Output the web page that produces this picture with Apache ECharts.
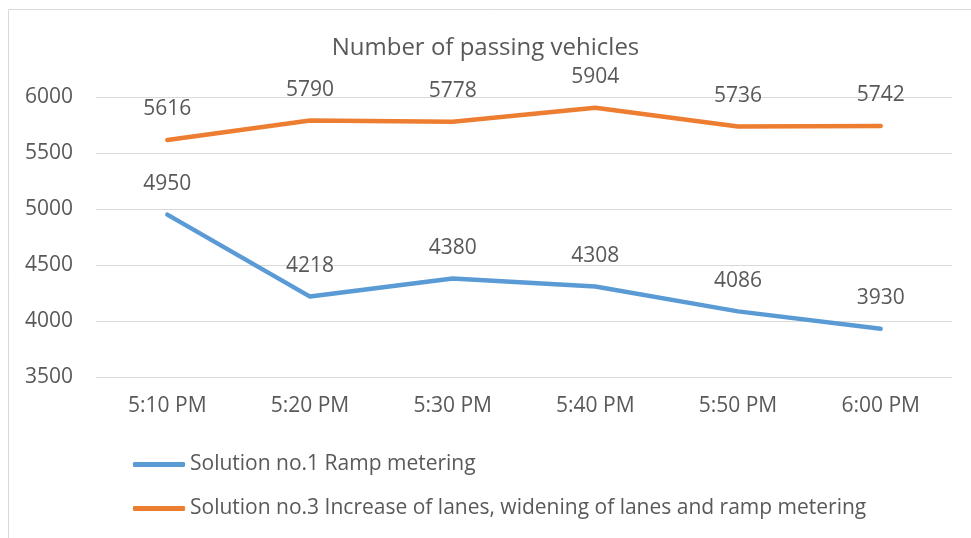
<!DOCTYPE html>
<html><head><meta charset="utf-8">
<script src="https://cdn.jsdelivr.net/npm/echarts@6/dist/echarts.min.js"></script>
<style>html,body{margin:0;padding:0;background:#fff}#c{width:971px;height:538px}</style>
</head><body><div id="c"></div>
<script>
const categories = ['5:10 PM','5:20 PM','5:30 PM','5:40 PM','5:50 PM','6:00 PM'];
const seriesNames = ['Solution no.1 Ramp metering','Solution no.3 Increase of lanes, widening of lanes and ramp metering'];
const solution1 = [4950, 4218, 4380, 4308, 4086, 3930];
const solution3 = [5616, 5790, 5778, 5904, 5736, 5742];
const yTicks = [3500, 4000, 4500, 5000, 5500, 6000];

const FONT = 'Open Sans';
const TXT = '#595959';
const chart = echarts.init(document.getElementById('c'));
const mkSeries = (name, data, color) => ({
  name, type: 'line', data, symbol: 'circle', symbolSize: 0.01, showSymbol: true, smooth: false,
  lineStyle: { color, width: 4.5, cap: 'round', join: 'round' },
  itemStyle: { color },
  label: { show: true, position: 'top', distance: 20, color: TXT, fontFamily: FONT, fontSize: 21 }
});
chart.setOption({
  animation: false,
  title: { text: 'Number of passing vehicles', left: 'center', top: 31,
    textStyle: { fontFamily: FONT, fontSize: 24, fontWeight: 'normal', color: TXT } },
  graphic: [{ type: 'rect', shape: { x: 8.5, y: 9.5, width: 1100, height: 1000 },
    style: { fill: 'none', stroke: '#d9d9d9', lineWidth: 1 }, silent: true }],
  grid: { left: 96, right: 19, top: 97, bottom: 161 },
  xAxis: { type: 'category', data: categories, boundaryGap: true,
    axisLine: { show: false }, axisTick: { show: false },
    axisLabel: { color: TXT, fontFamily: FONT, fontSize: 21, margin: 19 } },
  yAxis: { type: 'value', min: yTicks[0], max: yTicks[yTicks.length-1], interval: 500,
    axisLine: { show: false }, axisTick: { show: false },
    splitLine: { lineStyle: { color: '#d9d9d9', width: 1 } },
    axisLabel: { color: TXT, fontFamily: FONT, fontSize: 21, margin: 23, formatter: v => String(v) } },
  legend: { orient: 'vertical', left: 128, top: 449, itemGap: 23,
    itemWidth: 52, itemHeight: 5, icon: 'roundRect',
    textStyle: { color: TXT, fontFamily: FONT, fontSize: 21 },
    data: seriesNames },
  series: [mkSeries(seriesNames[0], solution1, '#5B9BD5'), mkSeries(seriesNames[1], solution3, '#ED7D31')]
});
</script></body></html>
